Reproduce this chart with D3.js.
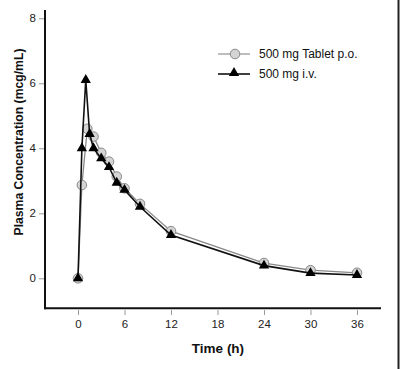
<!DOCTYPE html>
<html lang="en"><head>
<meta charset="utf-8">
<title>Plasma Concentration</title>
<script src="https://cdn.jsdelivr.net/npm/d3@7"></script>
<style>
body { margin: 0; background: #fff; }
text { font-family: "Liberation Sans", Arial, sans-serif; }
</style>
</head>
<body>
<script>
var width = 400;
var height = 369;

// tablet p.o. readings
var tabletTimes = [0, 0.5, 1.2, 2, 3, 4, 5, 6, 8, 12, 24, 30, 36];
var tabletConc = [0, 2.87, 4.6, 4.36, 3.86, 3.59, 3.13, 2.77, 2.29, 1.45, 0.47, 0.25, 0.17];

// i.v. readings
var ivTimes = [0, 0.5, 1, 1.5, 2, 3, 4, 5, 6, 8, 12, 24, 30, 36];
var ivConc = [0, 4.0, 6.1, 4.44, 4.0, 3.69, 3.42, 2.94, 2.72, 2.2, 1.33, 0.39, 0.16, 0.1];

var xTicks = [0, 6, 12, 18, 24, 30, 36];
var yTicks = [0, 2, 4, 6, 8];
var seriesNames = ["500 mg Tablet p.o.", "500 mg i.v."];

var svg = d3.select("body").append("svg")
  .attr("width", width)
  .attr("height", height);

// dark edge on the right side of the picture
svg.append("line")
  .attr("x1", 398.5).attr("x2", 398.5).attr("y1", 0).attr("y2", height)
  .attr("stroke", "#222").attr("stroke-width", 2);

var x = d3.scaleLinear().domain([-4.26, 39.1]).range([45, 381]);
var y = d3.scaleLinear().domain([-0.923, 8.255]).range([308.3, 10]);

// axes
var xAxis = svg.append("g")
  .attr("transform", "translate(0,309)")
  .call(d3.axisBottom(x).tickValues(xTicks).tickSize(6).tickPadding(5));
var yAxis = svg.append("g")
  .attr("transform", "translate(45,0)")
  .call(d3.axisLeft(y).tickValues(yTicks).tickSize(6).tickPadding(3));

[xAxis, yAxis].forEach(function(a) {
  a.select(".domain").remove();
  a.selectAll(".tick line").attr("stroke", "#999").attr("stroke-width", 1);
  a.selectAll(".tick text").attr("fill", "#222").style("font-size", "11.5px")
    .style("font-family", "'Liberation Sans', Arial, sans-serif");
});
xAxis.selectAll(".tick line").attr("y1", 1).attr("y2", 6);

svg.append("line")
  .attr("x1", 45).attr("x2", 45).attr("y1", 10).attr("y2", 309.3)
  .attr("stroke", "#111").attr("stroke-width", 2);
svg.append("line")
  .attr("x1", 44).attr("x2", 381).attr("y1", 308.3).attr("y2", 308.3)
  .attr("stroke", "#111").attr("stroke-width", 2);

// axis titles
svg.append("text")
  .attr("x", 218).attr("y", 353)
  .attr("text-anchor", "middle")
  .style("font-size", "13.5px").style("font-weight", "bold")
  .attr("fill", "#111")
  .text("Time (h)");

svg.append("text")
  .attr("transform", "translate(22.5,142) rotate(-90)")
  .attr("text-anchor", "middle")
  .style("font-size", "12.2px").style("font-weight", "bold")
  .attr("fill", "#111")
  .text("Plasma Concentration (mcg/mL)");

var line = d3.line()
  .x(function(d) { return x(d[0]); })
  .y(function(d) { return y(d[1]); });

var tabletData = d3.zip(tabletTimes, tabletConc);
var ivData = d3.zip(ivTimes, ivConc);

var tri = d3.symbol().type(d3.symbolTriangle).size(46);

// tablet series
svg.append("path")
  .datum(tabletData)
  .attr("d", line)
  .attr("fill", "none")
  .attr("stroke", "#888")
  .attr("stroke-width", 1.3);

svg.selectAll(".tab")
  .data(tabletData).enter()
  .append("circle")
  .attr("class", "tab")
  .attr("cx", function(d) { return x(d[0]); })
  .attr("cy", function(d) { return y(d[1]); })
  .attr("r", 4.8)
  .attr("fill", "#d4d4d4")
  .attr("stroke", "#8a8a8a")
  .attr("stroke-width", 1);

// i.v. series
svg.append("path")
  .datum(ivData)
  .attr("d", line)
  .attr("fill", "none")
  .attr("stroke", "#111")
  .attr("stroke-width", 1.6);

svg.selectAll(".iv")
  .data(ivData).enter()
  .append("path")
  .attr("class", "iv")
  .attr("d", tri)
  .attr("transform", function(d) { return "translate(" + x(d[0]) + "," + y(d[1]) + ")"; })
  .attr("fill", "#000");

// legend
var legend = svg.append("g");
legend.append("line")
  .attr("x1", 218).attr("x2", 250).attr("y1", 54).attr("y2", 54)
  .attr("stroke", "#999").attr("stroke-width", 1.3);
legend.append("circle")
  .attr("cx", 235).attr("cy", 54).attr("r", 4.8)
  .attr("fill", "#d4d4d4").attr("stroke", "#8a8a8a");
legend.append("line")
  .attr("x1", 218).attr("x2", 250).attr("y1", 74).attr("y2", 74)
  .attr("stroke", "#111").attr("stroke-width", 1.6);
legend.append("path")
  .attr("d", tri)
  .attr("transform", "translate(234,73)")
  .attr("fill", "#000");

legend.selectAll(".lab")
  .data(seriesNames).enter()
  .append("text")
  .attr("class", "lab")
  .attr("x", 259)
  .attr("y", function(d, i) { return 58 + i * 20; })
  .style("font-size", "12px")
  .attr("fill", "#111")
  .text(function(d) { return d; });
</script>
</body></html>
